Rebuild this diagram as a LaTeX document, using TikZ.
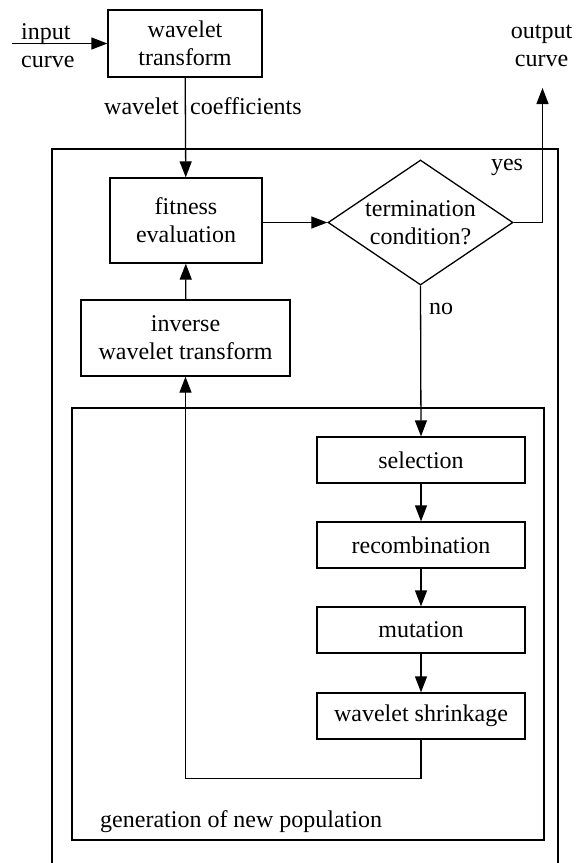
\documentclass[tikz,border=0pt]{standalone}
\usepackage{fontspec}
\setmainfont{Liberation Serif}
\usepackage{tikz}
\usetikzlibrary{arrows.meta,shapes.geometric}
\tikzstyle{block}=[draw,rectangle,line width=1.3pt,align=center,inner sep=0pt]
\tikzstyle{decision}=[draw,diamond,line width=1.3pt,align=center,inner sep=0pt,aspect=1.48,minimum width=185pt,minimum height=125pt]
\tikzstyle{line} = [draw,line width=1.3pt,-{Triangle[length=16pt,width=12pt]}]
\tikzstyle{wire} = [draw,line width=1.3pt]
\tikzstyle{txt}=[align=center,inner sep=0pt]

\begin{document}
\begin{tikzpicture}[x=1pt,y=-1pt,font=\fontsize{24}{28}\selectfont]
    \path[use as bounding box] (0,0) rectangle (582,863);
    % Frames: the main loop and the new population part
    \path[wire] (52,863) -- (52,149) -- (558,149) -- (558,863);
    \path[wire] (72,408) rectangle (544,840);
    \node[txt,anchor=west] (gen) at (100,822) {generation of new population};
    % Now the blocks
    \node[block,minimum width=154pt,minimum height=67pt] (wt) at (185,43.5) {wavelet\\transform};
    \node[block,minimum width=152pt,minimum height=85pt] (fit) at (186,220.5) {fitness\\evaluation};
    \node[block,minimum width=209pt,minimum height=76pt] (inv) at (185.5,338) {inverse\\wavelet transform};
    \node[decision] (term) at (420.5,222.5) {termination\\condition?};
    \foreach \pos/\name/\text in {{(421,460)/sel/selection}, {(421,545)/rec/recombination},
        {(421,630)/mut/mutation}, {(421,716)/shr/wavelet shrinkage}}
        \node[block,minimum width=208pt,minimum height=46pt] (\name) at \pos {\text};
    % In and out
    \node[txt,align=left,anchor=west] (inc) at (21,46) {input\\curve};
    \node[txt] (outc) at (541.5,46) {output\\curve};
    \coordinate (in) at (12,43.5);
    \coordinate (outtip) at (542.5,88);
    % Connect the blocks
    \path[line] (in) -- (wt);
    \path[line] (wt) -- (fit);
    \path[line] (fit.east |- term) -- (term);
    \path[line] (term.east) -| (outtip);
    \path[line] (term.south) -- (sel.north);
    \foreach \source/\dest in {sel/rec, rec/mut, mut/shr}
        \path[line] (\source) -- (\dest);
    \path[line] (shr.south) -- ++(0,39) -| (inv.south);
    \path[line] (inv) -- (fit);
    % Labels on the connectors
    \node[txt,anchor=east] (wl) at (179,106) {wavelet};
    \node[txt,anchor=west] (co) at (190,106) {coefficients};
    \node[txt] (yes) at (507,167) {yes};
    \node[txt] (no) at (441,309) {no};
\end{tikzpicture}
\end{document}
